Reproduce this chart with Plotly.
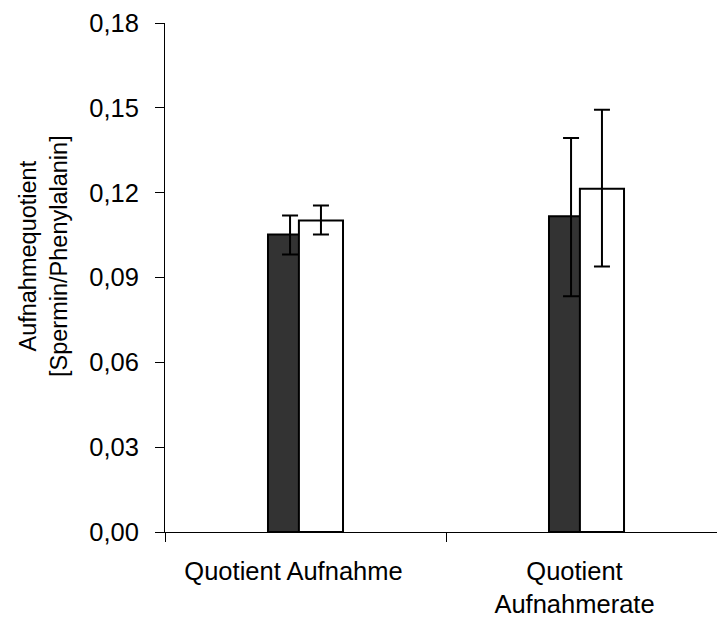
import plotly.graph_objects as go

# Data
categories = ["Quotient Aufnahme", "Quotient<br>Aufnahmerate"]
series_names = ["Serie 1", "Serie 2"]
dark_values = [0.1052, 0.1117]
dark_err_plus = [0.0067, 0.0276]
dark_err_minus = [0.0071, 0.0283]
white_values = [0.1102, 0.1214]
white_err_plus = [0.0053, 0.0279]
white_err_minus = [0.0050, 0.0275]
y_ticks = [0.00, 0.03, 0.06, 0.09, 0.12, 0.15, 0.18]
y_tick_text = ["0,00", "0,03", "0,06", "0,09", "0,12", "0,15", "0,18"]

FONT = "Liberation Sans, Arial, sans-serif"
FS = 25.5
BAR_W = 0.157
SHIFT = 0.055

fig = go.Figure()
fig.add_trace(go.Bar(
    x=categories, y=dark_values, name=series_names[0],
    width=BAR_W, offset=-SHIFT - BAR_W / 2,
    marker=dict(color="#333333", line=dict(color="black", width=2)),
    error_y=dict(type="data", symmetric=False, array=dark_err_plus,
                 arrayminus=dark_err_minus, color="black", thickness=2, width=8),
))
fig.add_trace(go.Bar(
    x=categories, y=white_values, name=series_names[1],
    width=BAR_W, offset=SHIFT - BAR_W / 2,
    marker=dict(color="white", line=dict(color="black", width=2)),
    error_y=dict(type="data", symmetric=False, array=white_err_plus,
                 arrayminus=white_err_minus, color="black", thickness=2, width=8),
))

fig.update_layout(
    width=717, height=617,
    margin=dict(l=165, r=0, t=23, b=85),
    barmode="overlay",
    showlegend=False,
    plot_bgcolor="white", paper_bgcolor="white",
    font=dict(family=FONT, size=FS, color="black"),
)
fig.update_xaxes(
    type="category", range=[-0.5, 1.4644], automargin=False,
    showline=True, linecolor="black", linewidth=1,
    ticks="outside", ticklen=9, tickcolor="black", tickson="boundaries",
    showgrid=False, zeroline=False, ticklabelstandoff=16, ticklabelshift=-12,
    tickfont=dict(family=FONT, size=FS, color="black"),
)
fig.update_yaxes(
    range=[0, 0.18], tickvals=y_ticks, ticktext=y_tick_text, automargin=False,
    showline=True, linecolor="black", linewidth=1,
    ticks="outside", ticklen=9, tickcolor="black",
    showgrid=False, zeroline=False, ticklabelstandoff=11,
    tickfont=dict(family=FONT, size=FS, color="black"),
)
fig.add_annotation(
    text="Aufnahmequotient<br>[Spermin/Phenylalanin]",
    xref="paper", yref="paper", x=-(165 - 44) / 552, y=(532 - 256) / 509,
    xanchor="center", yanchor="middle", textangle=-90, showarrow=False,
    font=dict(family=FONT, size=23.5, color="black"),
)

fig.write_html("out.html")
